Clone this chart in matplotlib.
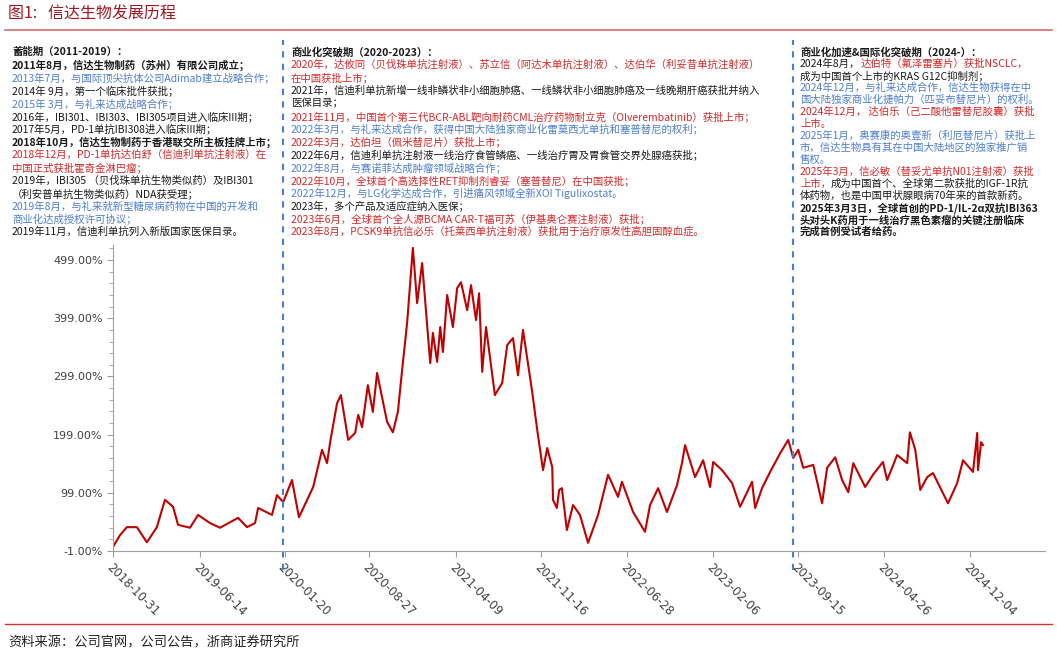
import matplotlib
matplotlib.use("Agg")
import matplotlib.pyplot as plt
import pandas as pd
import numpy as np

plt.rcParams['font.family'] = ['Noto Sans CJK SC', 'DejaVu Sans']

start_date = "2018-10-31"
days_since_start = [0, 18, 36, 62, 88, 114, 135, 156, 169, 200, 221, 252, 278, 325, 348, 369, 377, 413,
    426, 442, 465, 483, 520, 543, 556, 564, 582, 592, 611, 629, 637, 647, 662, 675, 686, 712, 727,
    740, 751, 764, 779, 790, 803, 824, 831, 842, 850, 857, 868, 883, 894, 904, 920, 930, 943, 951,
    959, 969, 992, 1011, 1024, 1039, 1052, 1065, 1089, 1102, 1117, 1128, 1141, 1143, 1153, 1159,
    1166, 1179, 1195, 1213, 1234, 1260, 1286, 1312, 1322, 1351, 1382, 1395, 1416, 1439, 1465, 1478,
    1486, 1512, 1533, 1551, 1559, 1582, 1608, 1629, 1660, 1668, 1686, 1707, 1733, 1754, 1767, 1780,
    1793, 1819, 1842, 1855, 1876, 1894, 1910, 1923, 1954, 1974, 2000, 2011, 2037, 2063, 2070, 2084,
    2097, 2115, 2130, 2169, 2193, 2208, 2234, 2245, 2247, 2255, 2260]
returns_pct = [6, 26, 40, 40, 14, 40, 87, 75, 44, 39, 61, 47, 39, 56, 40, 47, 73, 61,
    95, 83, 121, 57, 109, 173, 150, 186, 253, 267, 190, 202, 233, 212, 284, 238, 305, 221, 203,
    238, 310, 391, 520, 425, 494, 322, 374, 324, 384, 341, 439, 384, 451, 461, 413, 456, 396, 442,
    307, 384, 267, 288, 353, 365, 301, 379, 272, 207, 138, 176, 143, 87, 73, 104,
    107, 35, 78, 61, 13, 61, 130, 92, 118, 66, 32, 78, 107, 66, 112, 150,
    181, 126, 155, 109, 152, 138, 116, 75, 118, 73, 107, 135, 167, 190, 159, 173,
    142, 147, 81, 142, 160, 121, 100, 150, 109, 130, 152, 121, 164, 150, 203, 173,
    104, 126, 133, 81, 116, 155, 135, 202, 138, 186, 181]
tick_labels = ["2018-10-31", "2019-06-14", "2020-01-20", "2020-08-27", "2021-04-09", "2021-11-16",
               "2022-06-28", "2023-02-06", "2023-09-15", "2024-04-26", "2024-12-04"]
y_ticks = [-1, 99, 199, 299, 399, 499]
phase_lines = ["2020-01-15", "2023-09-02"]

t0 = pd.Timestamp(start_date)
xd = [t0 + pd.Timedelta(days=d) for d in days_since_start]
tick_dates = [pd.Timestamp(t) for t in tick_labels]

W, H = 1057, 656
fig = plt.figure(figsize=(W/100, H/100), dpi=100)

def fx(px): return px / W
def fy(py): return 1 - py / H

ax = fig.add_axes([fx(113), fy(551), fx(1045) - fx(113), fy(245) - fy(551)])
ax.plot(xd, returns_pct, color='#c00000', lw=1.5)
ax.set_xlim(t0, t0 + pd.Timedelta(days=2421))
ax.set_ylim(-1, 525)
ax.set_yticks(y_ticks)
ax.set_yticklabels([f"{v:.2f}%" for v in y_ticks], fontsize=8, color='#404040', family='DejaVu Sans')
ax.set_yticks(np.arange(-1, 525, 20), minor=True)
ax.set_xticks(tick_dates)
ax.set_xticklabels(tick_labels, rotation=-45, ha='left', va='top', rotation_mode='anchor',
                   fontsize=8.5, color='#404040', family='DejaVu Sans')
for s in ['top', 'right']:
    ax.spines[s].set_visible(False)
for s in ['left', 'bottom']:
    ax.spines[s].set_color('#a0a0a0')
ax.tick_params(axis='both', colors='#a0a0a0', labelcolor='#404040', length=4)
ax.tick_params(axis='y', which='minor', length=3, colors='#a0a0a0')
for d in phase_lines:
    ax.axvline(pd.Timestamp(d), ymin=-0.062, ymax=1.67, color='#4a7fd4', ls=(0, (3, 3)),
               lw=1.5, clip_on=False)

# title
fig.text(fx(8), fy(14), "图1:   信达生物发展历程", fontsize=11.5, color='#a01820', va='center')
fig.add_artist(plt.Line2D([fx(5), fx(1052)], [fy(30), fy(30)], color='#d07070', lw=1.2))
fig.add_artist(plt.Line2D([fx(5), fx(1052)], [fy(624), fy(624)], color='#d03030', lw=1.0))
fig.text(fx(8), fy(643), "资料来源：公司官网，公司公告，浙商证券研究所", fontsize=9.5, color='#222222', va='center')

K, R, B = '#1a1a1a', '#d42a2a', '#4f7fcf'
col1 = [
    [("蓄能期（2011-2019）：", K, True)],
    [("2011年8月，信达生物制药（苏州）有限公司成立；", K, True)],
    [("2013年7月，与国际顶尖抗体公司Adimab建立战略合作；", B, False)],
    [("2014年 9月，第一个临床批件获批；", K, False)],
    [("2015年 3月，与礼来达成战略合作；", B, False)],
    [("2016年，IBI301、IBI303、IBI305项目进入临床III期；", K, False)],
    [("2017年5月，PD-1单抗IBI308进入临床III期；", K, False)],
    [("2018年10月，信达生物制药于香港联交所主板挂牌上市；", K, True)],
    [("2018年12月，PD-1单抗达伯舒（信迪利单抗注射液）在", R, False)],
    [("中国正式获批霍奇金淋巴瘤；", R, False)],
    [("2019年，IBI305 （贝伐珠单抗生物类似药）及IBI301", K, False)],
    [("（利安普单抗生物类似药）NDA获受理；", K, False)],
    [("2019年8月，与礼来就新型糖尿病药物在中国的开发和", B, False)],
    [("商业化达成授权许可协议；", B, False)],
    [("2019年11月，信迪利单抗列入新版国家医保目录。", K, False)],
]
col2 = [
    [("商业化突破期（2020-2023）：", K, True)],
    [("2020年，达攸同（贝伐珠单抗注射液）、苏立信（阿达木单抗注射液）、达伯华（利妥昔单抗注射液）", R, False)],
    [("在中国获批上市；", R, False)],
    [("2021年，信迪利单抗新增一线非鳞状非小细胞肺癌、一线鳞状非小细胞肺癌及一线晚期肝癌获批并纳入", K, False)],
    [("医保目录；", K, False)],
    [("2021年11月，中国首个第三代BCR-ABL靶向耐药CML治疗药物耐立克（Olverembatinib）获批上市；", R, False)],
    [("2022年3月，与礼来达成合作，获得中国大陆独家商业化雷莫西尤单抗和塞普替尼的权利；", B, False)],
    [("2022年3月，达伯坦（佩米替尼片）获批上市；", R, False)],
    [("2022年6月，信迪利单抗注射液一线治疗食管鳞癌、一线治疗胃及胃食管交界处腺癌获批；", K, False)],
    [("2022年8月，与赛诺菲达成肿瘤领域战略合作；", B, False)],
    [("2022年10月，全球首个高选择性RET抑制剂睿妥（塞普替尼）在中国获批；", R, False)],
    [("2022年12月，与LG化学达成合作，引进痛风领域全新XOI Tigulixostat。", B, False)],
    [("2023年，多个产品及适应症纳入医保；", K, False)],
    [("2023年6月，全球首个全人源BCMA CAR-T福可苏（伊基奥仑赛注射液）获批；", R, False)],
    [("2023年8月，PCSK9单抗信必乐（托莱西单抗注射液）获批用于治疗原发性高胆固醇血症。", R, False)],
]
col3 = [
    [("商业化加速&国际化突破期（2024-）：", K, True)],
    [("2024年8月，", K, False), ("达伯特（氟泽雷塞片）获批NSCLC，", R, False)],
    [("成为中国首个上市的KRAS G12C抑制剂；", K, False)],
    [("2024年12月，与礼来达成合作，信达生物获得在中", B, False)],
    [("国大陆独家商业化捷帕力（匹妥布替尼片）的权利。", B, False)],
    [("2024年12月， 达伯乐（己二酸他雷替尼胶囊）获批", R, False)],
    [("上市。", R, False)],
    [("2025年1月，奥赛康的奥壹新（利厄替尼片）获批上", B, False)],
    [("市，信达生物具有其在中国大陆地区的独家推广销", B, False)],
    [("售权。", B, False)],
    [("2025年3月，信必敏（替妥尤单抗N01注射液）获批", R, False)],
    [("上市，", R, False), ("成为中国首个、全球第二款获批的IGF-1R抗", K, False)],
    [("体药物，也是中国甲状腺眼病70年来的首款新药。", K, False)],
    [("2025年3月3日，全球首创的PD-1/IL-2α双抗IBI363", K, True)],
    [("头对头K药用于一线治疗黑色素瘤的关键注册临床", K, True)],
    [("完成首例受试者给药。", K, True)],
]

fig.canvas.draw()
renderer = fig.canvas.get_renderer()

def draw_col(lines, x0, y0, step):
    for i, segs in enumerate(lines):
        x = fx(x0)
        y = fy(y0 + i * step)
        for txt, c, bold in segs:
            t = fig.text(x, y, txt, fontsize=7.5, color=c, va='center', ha='left',
                         fontweight='bold' if bold else 'normal')
            bb = t.get_window_extent(renderer=renderer)
            x = bb.x1 / fig.bbox.width

draw_col(col1, 12, 52, 12.86)
draw_col(col2, 291, 52, 12.86)
draw_col(col3, 800, 52, 12.0)

fig.savefig("out.png", dpi=100)
